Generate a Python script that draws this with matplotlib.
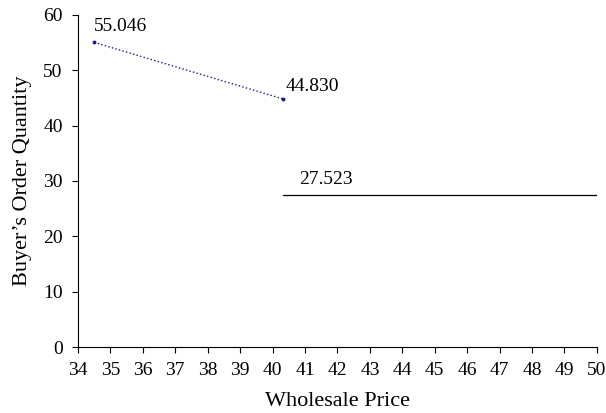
import matplotlib.pyplot as plt

plt.rcParams['font.family'] = ['Liberation Serif', 'DejaVu Serif']

# data
price_low = [34.5, 40.32]
qty_low = [55.046, 44.830]
price_high = [40.32, 50]
qty_high = [27.523, 27.523]
xticks = list(range(34, 51))
yticks = list(range(0, 61, 10))

fig = plt.figure(figsize=(6.06, 4.13), dpi=100)
ax = fig.add_axes([0.1287, 0.1598, 0.8563, 0.8039])

ax.plot(price_low, qty_low, color='#1a1a8c', linestyle=':', linewidth=1.0,
        marker='o', markersize=1.8)
ax.plot(price_high, qty_high, color='black', linewidth=0.9)

ax.annotate('55.046', (price_low[0], qty_low[0]), xytext=(0, 8.4),
            textcoords='offset points', fontsize=14, va='baseline')
ax.annotate('44.830', (price_low[1], qty_low[1]), xytext=(2.2, 5.8),
            textcoords='offset points', fontsize=14, va='baseline')
ax.annotate('27.523', (price_high[0], qty_high[0]), xytext=(11.5, 8),
            textcoords='offset points', fontsize=14, va='baseline')

ax.set_xlim(34, 50)
ax.set_ylim(0, 60)
ax.set_xticks(xticks)
ax.set_yticks(yticks)
ax.tick_params(direction='out', length=4, width=0.8, labelsize=14, pad=7)
ax.spines['top'].set_visible(False)
ax.spines['right'].set_visible(False)
ax.set_xlabel('Wholesale Price', fontsize=16, labelpad=9)
ax.set_ylabel('Buyer\u2019s Order Quantity', fontsize=16, labelpad=8)

fig.savefig('out.png', dpi=100)
